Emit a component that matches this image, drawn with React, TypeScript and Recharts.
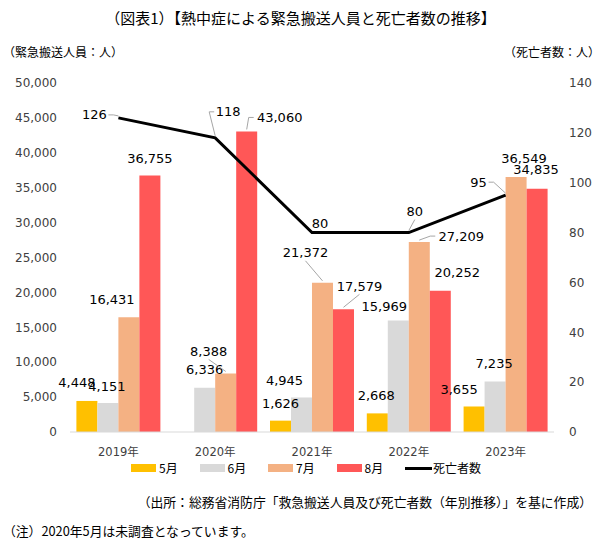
import { ComposedChart, Bar, Line, XAxis, YAxis, LabelList } from "recharts";

// ---- data ----
const years = ["2019年", "2020年", "2021年", "2022年", "2023年"];
const may = [4448, null, 1626, 2668, 3655]; // 2020年5月は未調査
const june = [4151, 6336, 4945, 15969, 7235];
const july = [16431, 8388, 21372, 27209, 36549];
const august = [36755, 43060, 17579, 20252, 34835];
const deaths = [126, 118, 80, 80, 95];

const leftTicks = [0, 5000, 10000, 15000, 20000, 25000, 30000, 35000, 40000, 45000, 50000];
const rightTicks = [0, 20, 40, 60, 80, 100, 120, 140];

const chartData = years.map((year, i) => ({
  year,
  may: may[i],
  june: june[i],
  july: july[i],
  august: august[i],
  deaths: deaths[i],
}));

// ---- look ----
const COLORS = {
  may: "#FFC000",
  june: "#D9D9D9",
  july: "#F4B183",
  august: "#FF5757",
  deaths: "#000000",
};
const JP = '"Noto Sans CJK JP", sans-serif';
const NUM = '"DejaVu Sans", "Noto Sans CJK JP", sans-serif';

// label nudges [dx, dy, leader line] relative to the default spot above the mark
type Nudge = [number, number, boolean?];
const mayNudge: Nudge[] = [[-10, -1], [0, 0], [-1, -1], [-15, 0], [-1, -1]];
const juneNudge: Nudge[] = [[-1, 0], [0, -1], [-17, 0], [-14, 3], [-1, -1]];
const julyNudge: Nudge[] = [[-17, -1], [-17, -5, true], [-17, -13, true], [42, 11, true], [8, -1]];
const augustNudge: Nudge[] = [[0, 0], [33, 3, true], [16, -6, true], [17, -1], [-1, -2]];
const deathsNudge: Nudge[] = [[-24, -3, true], [13, -26, true], [8, -9], [6, -21, true], [-27, -13, true]];

function leaderPath(px: number, py: number, lx: number, ly: number, dx: number, halfW: number) {
  if (Math.abs(dx) > halfW) {
    const s = Math.sign(dx);
    const ex = lx - s * (halfW + 2);
    return `${px},${py} ${ex - s * 5},${ly} ${ex},${ly}`;
  }
  return `${px},${py} ${lx},${ly + 8}`;
}

function makeLabel(series: (number | null)[], nudges: Nudge[], isLine: boolean) {
  return (props: any) => {
    const { x, y, width, value } = props;
    if (value == null) return null;
    const index = props.index ?? series.indexOf(value);
    const [dx, dy, leader] = nudges[index] ?? [0, 0];
    const px = isLine ? Number(x) : Number(x) + Number(width) / 2;
    const py = Number(y);
    const lx = px + dx;
    const ly = isLine ? py + dy : py - 17 + dy;
    const text = Number(value).toLocaleString("en-US");
    const halfW = text.length * 4.0;
    return (
      <g>
        {leader && (
          <polyline
            points={leaderPath(px, py - 2, lx, ly, dx, halfW)}
            fill="none"
            stroke="#A6A6A6"
            strokeWidth={1}
          />
        )}
        <text
          x={lx}
          y={ly}
          textAnchor="middle"
          dominantBaseline="central"
          fontSize={13}
          fontFamily={NUM}
          fill="#000"
        >
          {text}
        </text>
      </g>
    );
  };
}

const legendItems = [
  { name: "5月", color: COLORS.may, line: false },
  { name: "6月", color: COLORS.june, line: false },
  { name: "7月", color: COLORS.july, line: false },
  { name: "8月", color: COLORS.august, line: false },
  { name: "死亡者数", color: COLORS.deaths, line: true },
];

export default function App() {
  return (
    <div
      style={{
        position: "absolute",
        left: 0,
        top: 0,
        width: 601,
        height: 551,
        background: "#fff",
        fontFamily: JP,
        color: "#000",
      }}
    >
      <div
        style={{
          position: "absolute",
          top: 8,
          left: 0,
          width: 601,
          textAlign: "center",
          fontSize: 15,
          lineHeight: "20px",
        }}
      >
        （図表1）【熱中症による緊急搬送人員と死亡者数の推移】
      </div>
      <div style={{ position: "absolute", top: 44, left: 3, fontSize: 12, lineHeight: "16px" }}>
        （緊急搬送人員：人）
      </div>
      <div style={{ position: "absolute", top: 44, right: 1, fontSize: 12, lineHeight: "16px" }}>
        （死亡者数：人）
      </div>

      <ComposedChart
        width={601}
        height={551}
        data={chartData}
        margin={{ top: 83, right: 0, bottom: 89, left: 0 }}
        barCategoryGap="6.6%"
        barGap={0}
        style={{ position: "absolute", left: 0, top: 0 }}
      >
        <XAxis
          dataKey="year"
          axisLine={{ stroke: "#D9D9D9" }}
          tickLine={false}
          height={30}
          tickMargin={10}
          tick={{ fontSize: 11.5, fill: "#404040", fontFamily: NUM }}
        />
        <YAxis
          yAxisId="left"
          orientation="left"
          width={70}
          domain={[0, 50000]}
          ticks={leftTicks}
          axisLine={false}
          tickLine={false}
          tickMargin={7}
          tickFormatter={(v: number) => v.toLocaleString("en-US")}
          tick={{ fontSize: 12, fill: "#404040", fontFamily: NUM }}
        />
        <YAxis
          yAxisId="right"
          orientation="right"
          width={47}
          domain={[0, 140]}
          ticks={rightTicks}
          axisLine={false}
          tickLine={false}
          tickMargin={9}
          tick={{ fontSize: 12, fill: "#404040", fontFamily: NUM }}
        />
        <Bar yAxisId="left" dataKey="may" name="5月" fill={COLORS.may} isAnimationActive={false}>
          <LabelList dataKey="may" content={makeLabel(may, mayNudge, false)} />
        </Bar>
        <Bar yAxisId="left" dataKey="june" name="6月" fill={COLORS.june} isAnimationActive={false}>
          <LabelList dataKey="june" content={makeLabel(june, juneNudge, false)} />
        </Bar>
        <Bar yAxisId="left" dataKey="july" name="7月" fill={COLORS.july} isAnimationActive={false}>
          <LabelList dataKey="july" content={makeLabel(july, julyNudge, false)} />
        </Bar>
        <Bar yAxisId="left" dataKey="august" name="8月" fill={COLORS.august} isAnimationActive={false}>
          <LabelList dataKey="august" content={makeLabel(august, augustNudge, false)} />
        </Bar>
        <Line
          yAxisId="right"
          dataKey="deaths"
          name="死亡者数"
          stroke={COLORS.deaths}
          strokeWidth={3}
          dot={false}
          activeDot={false}
          isAnimationActive={false}
        >
          <LabelList dataKey="deaths" content={makeLabel(deaths, deathsNudge, true)} />
        </Line>
      </ComposedChart>

      {/* legend */}
      <div
        style={{
          position: "absolute",
          top: 459,
          left: 131,
          display: "flex",
          fontSize: 12,
          lineHeight: "18px",
          whiteSpace: "nowrap",
        }}
      >
        {legendItems.map((item) => (
          <div
            key={item.name}
            style={{ width: item.line ? 90 : 68.5, display: "flex", alignItems: "center" }}
          >
            <span
              style={{
                display: "inline-block",
                width: item.line ? 27 : 25,
                height: item.line ? 3 : 8,
                background: item.color,
                marginRight: item.line ? 1 : 3,
              }}
            />
            <span>{item.name}</span>
          </div>
        ))}
      </div>

      <div
        style={{
          position: "absolute",
          top: 494,
          right: 9,
          fontSize: 12.8,
          lineHeight: "16px",
          whiteSpace: "nowrap",
        }}
      >
        （出所：総務省消防庁「救急搬送人員及び死亡者数（年別推移）」を基に作成）
      </div>
      <div style={{ position: "absolute", top: 523, left: 3, fontSize: 12.8, lineHeight: "16px" }}>
        （注）2020年5月は未調査となっています。
      </div>
    </div>
  );
}
